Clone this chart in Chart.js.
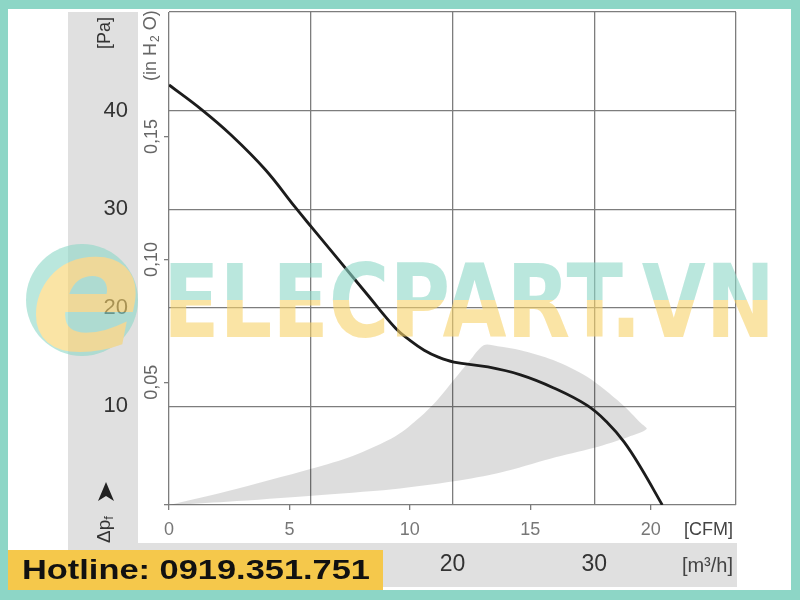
<!DOCTYPE html>
<html><head><meta charset="utf-8">
<script src="https://cdn.jsdelivr.net/npm/chart.js@4.4.1/dist/chart.umd.min.js"></script>
<style>
html,body{margin:0;padding:0;}
body{width:800px;height:600px;position:relative;overflow:hidden;background:#8dd6c6;font-family:"Liberation Sans",Arial,sans-serif;}
#panel{position:absolute;left:8px;top:9px;width:783px;height:581px;background:#fff;}
#gl{position:absolute;left:68px;top:12px;width:70px;height:575px;background:#e0e0e0;}
#gb{position:absolute;left:68px;top:543px;width:669px;height:44px;background:#e0e0e0;}
#c{position:absolute;left:0;top:0;}
#wm{position:absolute;left:0;top:0;}
#hot{position:absolute;left:8px;top:550px;width:375px;height:40px;background:#f5c84b;}
</style></head>
<body>
<div id="panel"></div><div id="gl"></div><div id="gb"></div>
<canvas id="c" width="800" height="600"></canvas>
<svg id="wm" width="800" height="600">
  <defs>
    <linearGradient id="wg" gradientUnits="userSpaceOnUse" x1="0" y1="263" x2="0" y2="337">
      <stop offset="0" stop-color="#8dd7c7"/><stop offset="0.5" stop-color="#8dd7c7"/>
      <stop offset="0.5" stop-color="#f7d26a"/><stop offset="1" stop-color="#f7d26a"/>
    </linearGradient>
  </defs>
  <g opacity="0.6">
    <circle cx="82" cy="300" r="56" fill="#8dd7c7"/>
    <text x="86" y="350" text-anchor="middle" font-family="DejaVu Sans" font-weight="bold" font-style="italic" font-size="165" fill="#f7d26a">e</text>
    <text x="163" y="337" textLength="612" lengthAdjust="spacingAndGlyphs" font-family="DejaVu Sans" font-weight="bold" font-size="101" fill="url(#wg)">ELECPART.VN</text>
  </g>
</svg>
<div id="hot"><svg width="375" height="40"><text x="14" y="29" textLength="348" lengthAdjust="spacingAndGlyphs" font-family="Liberation Sans" font-weight="bold" font-size="28" fill="#111">Hotline: 0919.351.751</text></svg></div>
<script>
// ---- data ----
const flowM3h   = [0, 2.3, 4.4, 6.8, 8.9, 10.1, 12.0, 13.9, 16.0, 17.0, 18.0, 19.0, 20.1, 22.5, 24.8, 27.1, 29.5, 30.9, 32.1, 33.3, 34.8];
const pressPa   = [42.6, 40.1, 37.5, 34.0, 30.2, 28.1, 24.8, 21.5, 17.9, 16.7, 15.7, 15.0, 14.5, 14.0, 13.2, 11.9, 10.1, 8.4, 6.4, 3.75, 0];
// operating range (shaded area), outline points
const rangeM3h  = [0, 4.1, 10.1, 15.8, 20.1, 23.4, 26.9, 30.0, 32.4, 33.7, 33.3, 31.9, 29.5, 27.1, 24.8, 23.2, 22.2, 21.2, 20.1, 18.9, 17.7, 16.0, 13.0, 10.1, 4.1, 0];
const rangePa   = [0, 0.34, 0.95, 1.6, 2.4, 3.3, 4.7, 5.8, 6.9, 7.7, 8.3, 10.3, 13.0, 14.7, 15.7, 16.1, 16.2, 14.6, 12.7, 10.6, 8.9, 7.0, 5.0, 3.7, 1.4, 0];
const M3H_PER_CFM = 1.699;
const PA_PER_INH2O = 249.09;
const unitPa = '[Pa]';
const unitCFM = '[CFM]';
const unitM3h = '[m³/h]';

const curvePts = flowM3h.map((v, i) => ({x: v, y: pressPa[i]}));
const rangePts = rangeM3h.map((v, i) => ({x: v, y: rangePa[i]}));

const FONT = '"Liberation Sans", Arial, sans-serif';
const GRID = '#7d7d7d';

const extras = {
  id: 'extras',
  afterDraw(chart) {
    const ctx = chart.ctx;
    const a = chart.chartArea;
    const xc = chart.scales.xc, xm = chart.scales.x, y = chart.scales.y, yi = chart.scales.yi;
    ctx.save();
    ctx.textBaseline = 'middle';
    // [CFM]
    ctx.fillStyle = '#444';
    ctx.font = '18px ' + FONT;
    ctx.textAlign = 'right';
    ctx.fillText(unitCFM, a.right - 3, xc.top + 25);
    // [m3/h]
    ctx.font = '20px ' + FONT;
    ctx.fillText(unitM3h, a.right - 3, xm.top + 23);
    // [Pa] rotated
    ctx.save();
    ctx.translate(y.left + 37, a.top + 21);
    ctx.rotate(-Math.PI / 2);
    ctx.textAlign = 'center';
    ctx.font = '18px ' + FONT;
    ctx.fillStyle = '#333';
    ctx.fillText(unitPa, 0, 0);
    ctx.restore();
    // (in H2O) rotated with subscript
    ctx.save();
    ctx.translate(yi.left + 12, a.top + 69);
    ctx.rotate(-Math.PI / 2);
    ctx.textAlign = 'left';
    ctx.fillStyle = '#666';
    ctx.font = '18px ' + FONT;
    let t1 = '(in H';
    ctx.fillText(t1, 0, 0);
    let w1 = ctx.measureText(t1).width;
    ctx.font = '12px ' + FONT;
    ctx.fillText('2', w1 + 1, 5);
    let w2 = ctx.measureText('2').width;
    ctx.font = '18px ' + FONT;
    ctx.fillText(' O)', w1 + w2 + 1, 0);
    ctx.restore();
    // Δpf with arrow
    ctx.save();
    ctx.translate(y.left + 37, a.bottom + 38);
    ctx.rotate(-Math.PI / 2);
    ctx.textAlign = 'left';
    ctx.fillStyle = '#333';
    ctx.font = '19px ' + FONT;
    ctx.fillText('Δp', 0, 0);
    let w3 = ctx.measureText('Δp').width;
    ctx.font = '13px ' + FONT;
    ctx.fillText('f', w3, 4);
    ctx.restore();
    // arrowhead pointing up
    const ax = y.left + 38, ay = a.bottom - 13;
    ctx.beginPath();
    ctx.moveTo(ax, ay - 10);
    ctx.lineTo(ax + 8, ay + 9);
    ctx.lineTo(ax, ay + 4);
    ctx.lineTo(ax - 8, ay + 9);
    ctx.closePath();
    ctx.fillStyle = '#222';
    ctx.fill();
    ctx.restore();
  }
};

new Chart(document.getElementById('c'), {
  type: 'line',
  data: {
    datasets: [
      {
        label: 'Δpf',
        data: curvePts,
        borderColor: '#1c1c1c',
        borderWidth: 2.8,
        pointRadius: 0,
        tension: 0.4,
        fill: false,
        xAxisID: 'x', yAxisID: 'y'
      },
      {
        label: 'range',
        data: rangePts,
        borderWidth: 0,
        borderColor: 'rgba(0,0,0,0)',
        backgroundColor: 'rgba(0,0,0,0.135)',
        pointRadius: 0,
        tension: 0.3,
        fill: 'shape',
        xAxisID: 'x', yAxisID: 'y'
      }
    ]
  },
  options: {
    responsive: false,
    animation: false,
    devicePixelRatio: 1,
    layout: { padding: { left: 68, right: 64, top: 12, bottom: 13 } },
    plugins: { legend: { display: false }, tooltip: { enabled: false } },
    scales: {
      x: {
        type: 'linear', position: 'bottom', weight: 2, min: 0, max: 40,
        ticks: { stepSize: 10, padding: 8, color: '#333', font: { size: 23, family: FONT },
                 maxRotation: 0, autoSkip: false,
                 callback: v => (v > 0 && v < 40) ? String(v) : '' },
        grid: { color: GRID, lineWidth: 1.3, drawTicks: false },
        border: { display: false },
        afterFit: s => { s.height = 44; s.paddingLeft = 0; s.paddingRight = 0; }
      },
      xc: {
        type: 'linear', position: 'bottom', weight: 1, min: 0, max: 40 / M3H_PER_CFM,
        ticks: { stepSize: 5, includeBounds: false, padding: 9, color: '#777', font: { size: 18, family: FONT },
                 maxRotation: 0, autoSkip: false,
                 callback: v => (Math.abs(v % 5) < 1e-6) ? String(v) : '' },
        grid: { drawOnChartArea: false, drawTicks: true, tickLength: 5, color: GRID, lineWidth: 1.3 },
        border: { display: false },
        afterFit: s => { s.height = 38; s.paddingLeft = 0; s.paddingRight = 0; }
      },
      y: {
        type: 'linear', position: 'left', weight: 2, min: 0, max: 50,
        ticks: { stepSize: 10, padding: 11, color: '#333', font: { size: 22, family: FONT },
                 callback: v => (v > 0 && v < 50) ? String(v) : '' },
        grid: { color: GRID, lineWidth: 1.3, drawTicks: false },
        border: { display: false },
        afterFit: s => { s.width = 71; s.paddingTop = 0; s.paddingBottom = 0; }
      },
      yi: {
        type: 'linear', position: 'left', weight: 1, min: 0, max: 50 / PA_PER_INH2O,
        ticks: { stepSize: 0.05, includeBounds: false, padding: -6, color: '#666', font: { size: 18, family: FONT },
                 minRotation: 90, maxRotation: 90, crossAlign: 'center',
                 callback: v => (v > 0.01 && v < 0.19) ? v.toFixed(2).replace('.', ',') : '' },
        grid: { drawOnChartArea: false, drawTicks: true, tickLength: 5, lineWidth: 1.3,
                color: c => (c.tick && c.tick.value > 0.19) ? 'rgba(0,0,0,0)' : GRID },
        border: { display: false },
        afterFit: s => { s.width = 30; s.paddingTop = 0; s.paddingBottom = 0; }
      }
    }
  },
  plugins: [extras]
});
</script>
</body></html>
